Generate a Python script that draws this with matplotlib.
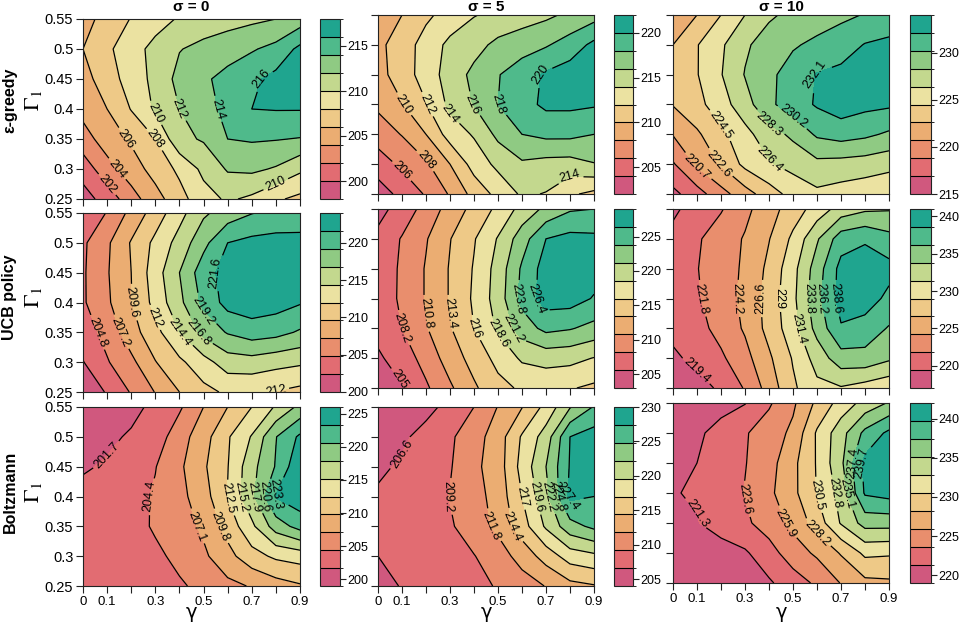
import matplotlib
matplotlib.use('Agg')
import matplotlib as mpl
import matplotlib.pyplot as plt
import numpy as np
from matplotlib.colors import ListedColormap, BoundaryNorm

plt.rcParams['font.family'] = ['Liberation Sans', 'DejaVu Sans']
plt.rcParams['mathtext.fontset'] = 'stix'

# grid of the experiment
gamma = [0.0, 0.1, 0.2, 0.3, 0.4, 0.5, 0.6, 0.7, 0.8, 0.9]
gamma1 = [0.25, 0.30, 0.35, 0.40, 0.45, 0.50, 0.55]
sigma_titles = ['σ = 0', 'σ = 5', 'σ = 10']
policy_names = ['ε-greedy', 'UCB policy', 'Boltzmann']

# mean reward, rows = Gamma_1 (0.25 -> 0.55), cols = gamma (0 -> 0.9)
z_eps_s0 = [
    [199.2, 200.8, 203.2, 205.2, 207.3, 209.2, 210.3, 209.6, 208.3, 207.5],
    [200.8, 203.3, 205.0, 206.8, 208.4, 210.5, 212.2, 212.4, 211.8, 210.4],
    [203.2, 204.9, 206.3, 208.0, 211.5, 212.2, 214.0, 214.2, 214.1, 213.9],
    [204.6, 206.0, 208.1, 210.3, 212.0, 213.3, 214.5, 216.0, 216.1, 216.1],
    [205.5, 206.7, 209.2, 210.4, 212.7, 213.7, 214.6, 215.6, 216.6, 217.3],
    [206.0, 207.6, 209.2, 210.6, 211.9, 212.6, 213.2, 213.8, 214.6, 216.5],
    [205.3, 206.7, 208.1, 209.2, 210.2, 210.8, 211.2, 211.6, 212.0, 213.0],
]
z_eps_s5 = [
    [203.0, 204.6, 206.2, 208.2, 210.7, 212.6, 214.3, 213.9, 212.3, 211.5],
    [205.0, 206.4, 207.7, 210.0, 212.8, 214.5, 215.7, 215.3, 215.2, 215.9],
    [206.9, 208.1, 210.0, 212.9, 214.2, 216.5, 218.0, 218.5, 218.5, 218.0],
    [208.4, 209.9, 211.9, 214.5, 216.1, 218.0, 219.3, 220.4, 220.4, 220.2],
    [209.3, 211.0, 212.9, 214.9, 216.5, 217.9, 219.0, 220.3, 221.0, 221.3],
    [209.5, 211.0, 212.8, 214.5, 215.3, 216.5, 217.2, 217.8, 218.9, 220.5],
    [209.0, 210.0, 211.6, 212.8, 213.9, 214.5, 215.0, 215.6, 216.4, 217.2],
]
z_eps_s10 = [
    [216.4, 218.0, 220.0, 221.8, 223.6, 225.2, 226.0, 225.6, 225.2, 224.8],
    [218.6, 221.0, 222.8, 225.0, 226.2, 227.0, 227.8, 227.6, 227.4, 227.0],
    [220.8, 222.3, 224.0, 225.8, 227.5, 228.7, 230.5, 231.0, 230.6, 229.9],
    [222.7, 223.9, 225.6, 227.5, 229.8, 231.2, 232.3, 233.1, 232.6, 232.4],
    [223.3, 224.4, 226.3, 228.4, 229.8, 231.0, 232.2, 232.6, 232.9, 233.0],
    [222.6, 224.4, 226.1, 228.0, 229.2, 230.0, 230.6, 231.2, 232.2, 232.5],
    [221.5, 222.6, 224.5, 226.4, 228.0, 228.8, 229.3, 229.8, 230.3, 231.0],
]
z_ucb_s0 = [
    [200.8, 202.6, 205.0, 207.3, 209.6, 211.3, 212.4, 212.3, 211.9, 211.3],
    [202.3, 204.6, 206.6, 209.5, 211.5, 213.5, 215.6, 215.8, 215.2, 214.8],
    [203.6, 205.6, 208.6, 211.2, 214.4, 217.5, 219.4, 220.4, 220.0, 218.9],
    [204.5, 206.8, 209.5, 212.8, 216.2, 219.8, 222.5, 223.0, 222.6, 221.8],
    [204.5, 207.0, 209.6, 213.3, 216.8, 220.6, 222.6, 223.4, 223.6, 223.4],
    [204.4, 206.8, 209.8, 212.6, 215.3, 218.5, 221.6, 222.3, 222.5, 222.3],
    [203.3, 204.9, 207.9, 210.7, 213.6, 216.4, 217.9, 219.1, 219.8, 220.3],
]
z_ucb_s5 = [
    [203.8, 205.4, 207.8, 210.4, 213.0, 215.2, 216.4, 216.6, 216.2, 215.5],
    [205.2, 206.8, 209.2, 212.0, 214.4, 216.8, 219.0, 219.6, 219.4, 218.5],
    [206.4, 208.2, 210.6, 213.2, 216.0, 219.0, 222.5, 224.5, 224.0, 223.0],
    [206.8, 208.6, 211.0, 213.6, 216.4, 219.8, 224.6, 227.6, 227.6, 226.2],
    [206.6, 208.6, 211.0, 213.6, 216.2, 219.6, 224.2, 227.6, 228.2, 227.6],
    [206.2, 208.4, 210.6, 213.3, 215.8, 218.8, 222.6, 226.4, 227.2, 227.0],
    [204.8, 206.6, 209.2, 211.8, 214.2, 216.6, 219.5, 221.8, 223.5, 223.8],
]
z_ucb_s10 = [
    [217.6, 218.5, 219.8, 222.0, 225.2, 228.6, 230.8, 231.2, 230.4, 229.6],
    [219.0, 220.0, 221.4, 223.4, 226.2, 229.2, 232.4, 235.2, 235.4, 234.2],
    [220.0, 221.0, 222.6, 224.5, 227.4, 230.4, 234.6, 238.4, 237.6, 236.0],
    [220.3, 221.5, 223.2, 224.7, 227.6, 230.8, 235.5, 239.5, 239.8, 238.0],
    [220.3, 221.7, 223.3, 224.5, 227.2, 230.6, 235.0, 239.4, 240.3, 239.4],
    [220.0, 221.5, 223.0, 224.4, 226.5, 229.5, 233.5, 237.5, 238.2, 237.0],
    [219.0, 220.3, 221.6, 223.6, 225.6, 227.8, 230.0, 232.4, 233.4, 233.6],
]
z_bol_s0 = [
    [201.8, 202.2, 202.8, 203.4, 204.1, 205.0, 206.4, 207.3, 208.6, 209.5],
    [202.2, 202.6, 203.2, 203.9, 205.0, 206.6, 208.9, 211.5, 213.0, 213.6],
    [202.6, 203.0, 203.5, 204.7, 205.8, 207.6, 210.8, 214.6, 219.2, 221.6],
    [202.5, 202.9, 203.4, 204.7, 206.3, 208.6, 212.6, 217.2, 223.5, 225.0],
    [201.4, 202.0, 202.8, 204.3, 206.6, 209.4, 212.4, 217.0, 220.8, 225.5],
    [200.6, 201.2, 202.0, 203.0, 205.9, 208.7, 212.2, 215.4, 220.5, 223.8],
    [200.0, 200.5, 201.0, 202.3, 204.0, 207.1, 209.8, 212.5, 215.5, 218.6],
]
z_bol_s5 = [
    [206.0, 206.7, 207.3, 207.8, 208.5, 209.4, 210.6, 211.9, 213.6, 214.2],
    [206.6, 207.0, 207.6, 208.3, 209.1, 210.6, 212.8, 215.5, 218.2, 219.0],
    [207.0, 207.5, 208.2, 208.9, 210.5, 212.4, 215.8, 220.0, 223.8, 225.4],
    [206.9, 207.3, 208.0, 209.3, 210.8, 212.8, 217.0, 221.4, 228.0, 227.4],
    [206.2, 206.9, 207.9, 209.0, 211.2, 213.1, 217.9, 222.2, 227.6, 228.8],
    [205.5, 206.2, 207.4, 208.8, 210.7, 213.1, 217.3, 220.8, 227.4, 228.6],
    [205.0, 205.4, 205.9, 207.3, 209.2, 211.9, 214.3, 217.8, 222.0, 225.0],
]
z_bol_s10 = [
    [219.2, 219.4, 219.7, 220.2, 221.0, 222.5, 224.0, 226.0, 227.6, 227.8],
    [219.5, 219.9, 220.4, 221.0, 222.7, 224.8, 226.3, 228.4, 231.0, 230.8],
    [220.6, 221.2, 222.2, 223.2, 224.6, 226.5, 229.2, 233.0, 236.0, 236.0],
    [221.2, 221.5, 222.4, 223.7, 225.4, 227.6, 230.6, 233.6, 240.0, 240.6],
    [220.5, 221.3, 222.2, 223.5, 225.0, 227.6, 230.7, 234.6, 240.4, 241.0],
    [220.2, 220.9, 222.1, 223.4, 224.7, 226.4, 230.8, 234.2, 238.0, 240.2],
    [219.6, 220.0, 220.5, 221.2, 223.3, 225.5, 228.7, 231.4, 233.6, 235.3],
]

# filled-contour levels (as on each key)
lev_eps_s0 = [198, 200, 202, 204, 206, 208, 210, 212, 214, 216, 218]
lev_eps_s5 = [202, 204, 206, 208, 210, 212, 214, 216, 218, 220, 222]
lev_eps_s10 = [215, 216.9, 218.8, 220.7, 222.6, 224.5, 226.4, 228.3, 230.2, 232.1, 234]
lev_ucb_s0 = [200, 202.4, 204.8, 207.2, 209.6, 212, 214.4, 216.8, 219.2, 221.6, 224]
lev_ucb_s5 = [203, 205.6, 208.2, 210.8, 213.4, 216, 218.6, 221.2, 223.8, 226.4, 229]
lev_ucb_s10 = [217, 219.4, 221.8, 224.2, 226.6, 229, 231.4, 233.8, 236.2, 238.6, 241]
lev_bol_s0 = [199, 201.7, 204.4, 207.1, 209.8, 212.5, 215.2, 217.9, 220.6, 223.3, 226]
lev_bol_s5 = [204, 206.6, 209.2, 211.8, 214.4, 217, 219.6, 222.2, 224.8, 227.4, 230]
lev_bol_s10 = [219, 221.3, 223.6, 225.9, 228.2, 230.5, 232.8, 235.1, 237.4, 239.7, 242]

key_ticks = [
    [[200, 205, 210, 215], [205, 210, 215, 220], [215, 220, 225, 230]],
    [[200, 205, 210, 215, 220], [205, 210, 215, 220, 225], [220, 225, 230, 235, 240]],
    [[200, 205, 210, 215, 220, 225], [205, 210, 215, 220, 225, 230], [220, 225, 230, 235, 240]],
]

grids = [[z_eps_s0, z_eps_s5, z_eps_s10],
         [z_ucb_s0, z_ucb_s5, z_ucb_s10],
         [z_bol_s0, z_bol_s5, z_bol_s10]]
levels = [[lev_eps_s0, lev_eps_s5, lev_eps_s10],
          [lev_ucb_s0, lev_ucb_s5, lev_ucb_s10],
          [lev_bol_s0, lev_bol_s5, lev_bol_s10]]

# band colours, low (pink) -> high (teal)
cols = ['#d0587e', '#e26c72', '#e98e6d', '#ebad72', '#eec987',
        '#ebe2a1', '#c3d88e', '#8fca83', '#4fba8b', '#1fa58f']
band_cmap = ListedColormap(cols)
band_cmap.set_under(cols[0])
band_cmap.set_over(cols[-1])

W, H = 961, 622
fig = plt.figure(figsize=(W / 100, H / 100), dpi=100)


def px_axes(x0, x1, y0, y1):
    return fig.add_axes([x0 / W, 1 - y1 / H, (x1 - x0) / W, (y1 - y0) / H])


panel_x = [(83, 300), (378, 594), (673, 889)]
key_x = [(320, 340), (614, 633), (910, 931)]
panel_y = [[(19, 199), (15, 194), (15, 194)],
           [(213, 392), (209, 388), (209, 388)],
           [(407, 586), (407, 586), (403, 583)]]

edge = '#222222'
xlabels = ['0', '0.1', '', '0.3', '', '0.5', '', '0.7', '', '0.9']
ylabels = ['0.25', '0.3', '0.35', '0.4', '0.45', '0.5', '0.55']

for r in range(3):
    for c in range(3):
        Z = np.array(grids[r][c])
        lev = levels[r][c]
        y0, y1 = panel_y[r][c]
        ax = px_axes(panel_x[c][0], panel_x[c][1], y0, y1)
        ax.contourf(gamma, gamma1, Z, levels=lev, cmap=band_cmap, extend='both')
        cs = ax.contour(gamma, gamma1, Z, levels=lev[1:-1], colors='black',
                        linewidths=0.9)
        ax.clabel(cs, fmt=lambda v: f'{round(v, 1):g}', fontsize=9,
                  inline=True, inline_spacing=3)
        ax.set_xlim(0, 0.9)
        ax.set_ylim(0.25, 0.55)
        ax.set_xticks(gamma)
        ax.set_yticks(gamma1)
        ax.set_xticklabels(xlabels if r == 2 else [''] * 10)
        ax.set_yticklabels(ylabels if c == 0 else [''] * 7)
        ax.tick_params(direction='out', length=5, width=0.8, labelsize=9.5,
                       color=edge, pad=2)
        ax.tick_params(axis='y', labelsize=10.5)
        for s in ax.spines.values():
            s.set_linewidth(0.8)
            s.set_color(edge)

        # key
        cax = px_axes(key_x[c][0], key_x[c][1], y0, y1)
        cb = mpl.colorbar.Colorbar(cax, cmap=ListedColormap(cols),
                                   norm=BoundaryNorm(lev, 10), boundaries=lev,
                                   ticks=key_ticks[r][c], spacing='proportional',
                                   drawedges=True)
        cb.outline.set_linewidth(0.8)
        cb.outline.set_edgecolor(edge)
        cb.dividers.set_color('black')
        cb.dividers.set_linewidth(0.8)
        cax.tick_params(direction='out', length=4, width=0.8, labelsize=9,
                        color=edge, pad=1.5)
        cax.set_yticklabels([str(t) for t in key_ticks[r][c]])

# titles, row names, axis labels
for c in range(3):
    xc = (panel_x[c][0] + panel_x[c][1]) / 2
    fig.text(xc / W, 1 - 7 / H, sigma_titles[c], ha='center', va='center',
             fontsize=11, fontweight='bold')
    fig.text(xc / W, 1 - 612 / H, 'γ', ha='center', va='center',
             fontsize=14, family='DejaVu Sans')

row_centers = [100, 297, 492]
for r in range(3):
    fig.text(10 / W, 1 - row_centers[r] / H, policy_names[r], rotation=90,
             ha='center', va='center', fontsize=11.5, fontweight='bold')
    fig.text(34 / W, 1 - row_centers[r] / H, r'$\Gamma_1$', rotation=90,
             ha='center', va='center', fontsize=16)

fig.savefig('out.png', dpi=100)
